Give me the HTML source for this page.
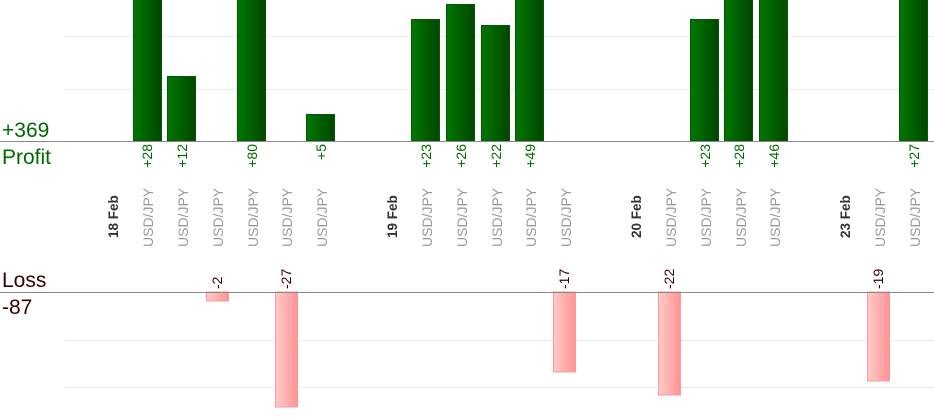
<!DOCTYPE html>
<html><head><meta charset="utf-8"><style>
html,body{margin:0;padding:0;background:#fff;width:934px;height:420px;overflow:hidden}
svg{display:block;font-family:"Liberation Sans",Arial,sans-serif}
</style></head><body>
<svg width="934" height="420" viewBox="0 0 934 420" xmlns="http://www.w3.org/2000/svg">
<defs>
<linearGradient id="g" x1="0" x2="1" y1="0" y2="0"><stop offset="0" stop-color="#007800"/><stop offset="1" stop-color="#004600"/></linearGradient>
<linearGradient id="r" x1="0" x2="1" y1="0" y2="0"><stop offset="0" stop-color="#ffcaca"/><stop offset="1" stop-color="#ff9494"/></linearGradient>
</defs>
<g stroke="#ebebeb" stroke-width="1">
<line x1="65" y1="36.5" x2="934" y2="36.5"/><line x1="65" y1="89.5" x2="934" y2="89.5"/>
<line x1="65" y1="340.5" x2="934" y2="340.5"/><line x1="65" y1="387.5" x2="934" y2="387.5"/>
</g>
<g fill="url(#g)" stroke="#005a00" stroke-width="1">
<rect x="133.5" y="-2" width="28" height="143"/>
<rect x="167.5" y="76.5" width="28" height="64.5"/>
<rect x="237.5" y="-2" width="28" height="143"/>
<rect x="306.5" y="114.5" width="28" height="26.5"/>
<rect x="411.5" y="19.5" width="28" height="121.5"/>
<rect x="446.5" y="4.5" width="28" height="136.5"/>
<rect x="481.5" y="25.5" width="28" height="115.5"/>
<rect x="515.5" y="-2" width="28" height="143"/>
<rect x="690.5" y="19.5" width="28" height="121.5"/>
<rect x="724.5" y="-2" width="28" height="143"/>
<rect x="759.5" y="-2" width="28" height="143"/>
<rect x="899.5" y="-2" width="28" height="143"/>
</g>
<g fill="url(#r)" stroke="#ff9a9a" stroke-width="1">
<rect x="206.5" y="292" width="22" height="9"/>
<rect x="275.5" y="292" width="22" height="115"/>
<rect x="553.5" y="292" width="22" height="80"/>
<rect x="658.5" y="292" width="22" height="103"/>
<rect x="867.5" y="292" width="22" height="89"/>
</g>
<line x1="0" y1="141.5" x2="934" y2="141.5" stroke="#888"/>
<line x1="0" y1="292.5" x2="934" y2="292.5" stroke="#888"/>
<text x="2" y="137" font-size="21" fill="#006a00">+369</text>
<text x="2" y="164" font-size="21" fill="#006a00">Profit</text>
<text x="2" y="287" font-size="21" fill="#3a0000">Loss</text>
<text x="2" y="314" font-size="21" fill="#3a0000">-87</text>
<g font-size="14" fill="#006a00" text-anchor="end">
<text transform="translate(152,144) rotate(-90)">+28</text>
<text transform="translate(187,144) rotate(-90)">+12</text>
<text transform="translate(257,144) rotate(-90)">+80</text>
<text transform="translate(326,144) rotate(-90)">+5</text>
<text transform="translate(431,144) rotate(-90)">+23</text>
<text transform="translate(466,144) rotate(-90)">+26</text>
<text transform="translate(501,144) rotate(-90)">+22</text>
<text transform="translate(535,144) rotate(-90)">+49</text>
<text transform="translate(710,144) rotate(-90)">+23</text>
<text transform="translate(744,144) rotate(-90)">+28</text>
<text transform="translate(779,144) rotate(-90)">+46</text>
<text transform="translate(919,144) rotate(-90)">+27</text>
</g>
<g font-size="14" fill="#3a0000">
<text transform="translate(222,289) rotate(-90)">-2</text>
<text transform="translate(291,289) rotate(-90)">-27</text>
<text transform="translate(569,289) rotate(-90)">-17</text>
<text transform="translate(674,289) rotate(-90)">-22</text>
<text transform="translate(883,289) rotate(-90)">-19</text>
</g>
<g font-size="13.5" font-weight="bold" fill="#333">
<text transform="translate(118,238) rotate(-90)">18 Feb</text>
<text transform="translate(397,238) rotate(-90)">19 Feb</text>
<text transform="translate(641,238) rotate(-90)">20 Feb</text>
<text transform="translate(850,238) rotate(-90)">23 Feb</text>
</g>
<g font-size="14" fill="#999">
<text transform="translate(153,247) rotate(-90)">USD/JPY</text>
<text transform="translate(188,247) rotate(-90)">USD/JPY</text>
<text transform="translate(223,247) rotate(-90)">USD/JPY</text>
<text transform="translate(258,247) rotate(-90)">USD/JPY</text>
<text transform="translate(292,247) rotate(-90)">USD/JPY</text>
<text transform="translate(327,247) rotate(-90)">USD/JPY</text>
<text transform="translate(432,247) rotate(-90)">USD/JPY</text>
<text transform="translate(467,247) rotate(-90)">USD/JPY</text>
<text transform="translate(502,247) rotate(-90)">USD/JPY</text>
<text transform="translate(536,247) rotate(-90)">USD/JPY</text>
<text transform="translate(571,247) rotate(-90)">USD/JPY</text>
<text transform="translate(676,247) rotate(-90)">USD/JPY</text>
<text transform="translate(711,247) rotate(-90)">USD/JPY</text>
<text transform="translate(746,247) rotate(-90)">USD/JPY</text>
<text transform="translate(780,247) rotate(-90)">USD/JPY</text>
<text transform="translate(885,247) rotate(-90)">USD/JPY</text>
<text transform="translate(920,247) rotate(-90)">USD/JPY</text>
</g>
</svg>
</body></html>
